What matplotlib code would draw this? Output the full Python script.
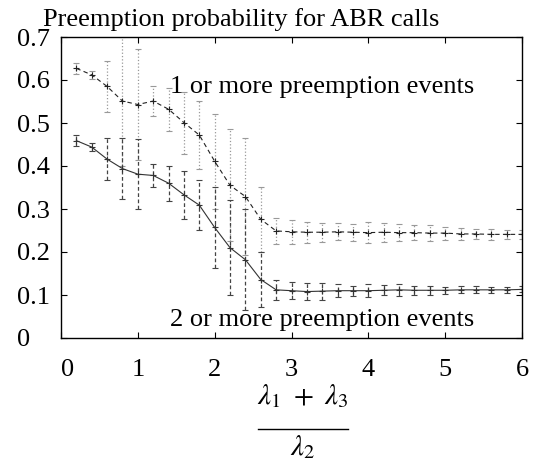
import matplotlib
matplotlib.use("Agg")
import matplotlib.pyplot as plt
from matplotlib.lines import Line2D

plt.rcParams['font.family'] = ['Liberation Serif', 'DejaVu Serif']
plt.rcParams['mathtext.fontset'] = 'stix'

x = [0.2, 0.4, 0.6, 0.8, 1.0, 1.2, 1.4, 1.6, 1.8, 2.0,
     2.2, 2.4, 2.6, 2.8, 3.0, 3.2, 3.4, 3.6, 3.8, 4.0,
     4.2, 4.4, 4.6, 4.8, 5.0, 5.2, 5.4, 5.6, 5.8, 6.0]

one_more = [0.627, 0.612, 0.585, 0.551, 0.543, 0.551, 0.532, 0.501, 0.472, 0.411,
            0.355, 0.329, 0.276, 0.249, 0.247, 0.246, 0.246, 0.247, 0.246, 0.245,
            0.246, 0.245, 0.245, 0.244, 0.244, 0.242, 0.242, 0.241, 0.241, 0.241]
one_err = [0.012, 0.010, 0.060, 0.150, 0.130, 0.035, 0.050, 0.072, 0.080, 0.110,
           0.130, 0.135, 0.076, 0.030, 0.028, 0.024, 0.022, 0.020, 0.020, 0.024,
           0.022, 0.020, 0.018, 0.018, 0.015, 0.013, 0.012, 0.012, 0.010, 0.010]

two_more = [0.459, 0.444, 0.416, 0.394, 0.381, 0.378, 0.360, 0.333, 0.309, 0.257,
            0.210, 0.182, 0.136, 0.112, 0.110, 0.108, 0.109, 0.110, 0.110, 0.110,
            0.111, 0.112, 0.111, 0.111, 0.111, 0.112, 0.112, 0.112, 0.112, 0.113]
two_err = [0.012, 0.010, 0.048, 0.070, 0.082, 0.027, 0.041, 0.056, 0.058, 0.095,
           0.110, 0.117, 0.063, 0.023, 0.020, 0.020, 0.020, 0.015, 0.012, 0.015,
           0.012, 0.014, 0.010, 0.010, 0.008, 0.008, 0.008, 0.007, 0.007, 0.007]

xticks = [0, 1, 2, 3, 4, 5, 6]
yticks = [0, 0.1, 0.2, 0.3, 0.4, 0.5, 0.6, 0.7]
yticklabels = ['0', '0.1', '0.2', '0.3', '0.4', '0.5', '0.6', '0.7']

W, H = 534, 462
fig = plt.figure(figsize=(W / 100, H / 100), dpi=100)
ax = fig.add_axes([61/W, 124/H, 461/W, 301/H])

eb1 = ax.errorbar(x, one_more, yerr=one_err, color='#222222', ls=(0, (4, 3)), lw=0.8,
                  marker='+', ms=5, mew=0.8, ecolor='#999999', elinewidth=0.9,
                  capsize=2.5, capthick=0.8)
eb1[2][0].set_linestyle(':')
eb2 = ax.errorbar(x, two_more, yerr=two_err, color='#333333', ls='-', lw=0.8,
                  marker='+', ms=5, mew=0.8, ecolor='#444444', elinewidth=0.9,
                  capsize=2.5, capthick=0.8)
eb2[2][0].set_linestyle((0, (3, 2)))

ax.set_xlim(0, 6)
ax.set_ylim(0, 0.7)
ax.set_xticks(xticks)
ax.set_xticklabels([str(t) for t in xticks])
ax.set_yticks(yticks)
ax.set_yticklabels(yticklabels, ha='left')
ax.tick_params(direction='in', top=True, right=True, labelsize=19, length=4, width=0.8)
ax.tick_params(axis='x', pad=15)
ax.tick_params(axis='y', pad=(61 - 17) * 0.72)
ax.xaxis.get_major_ticks()[0].label1.set_horizontalalignment('left')
for s in ax.spines.values():
    s.set_linewidth(1.0)

ax.text(0.236, 0.834, '1 or more preemption events', transform=ax.transAxes,
        fontsize=19, ha='left', va='center')
ax.text(0.236, 0.06, '2 or more preemption events', transform=ax.transAxes,
        fontsize=19, ha='left', va='center')
fig.text(43/W, 1 - 26/H, 'Preemption probability for ABR calls', fontsize=19,
         ha='left', va='baseline')

# x-axis label: (lambda_1 + lambda_3) / lambda_2 drawn as a stacked fraction
cx = 303 / W
fig.text(cx, 1 - 404/H, r'$\lambda_1\ +\ \lambda_3$', fontsize=21, ha='center', va='baseline')
fig.add_artist(Line2D([258/W, 348/W], [1 - 429/H, 1 - 429/H], color='black', lw=1.0,
                      transform=fig.transFigure))
fig.text(cx, 1 - 455/H, r'$\lambda_2$', fontsize=21, ha='center', va='baseline')

fig.savefig('out.png', dpi=100)
